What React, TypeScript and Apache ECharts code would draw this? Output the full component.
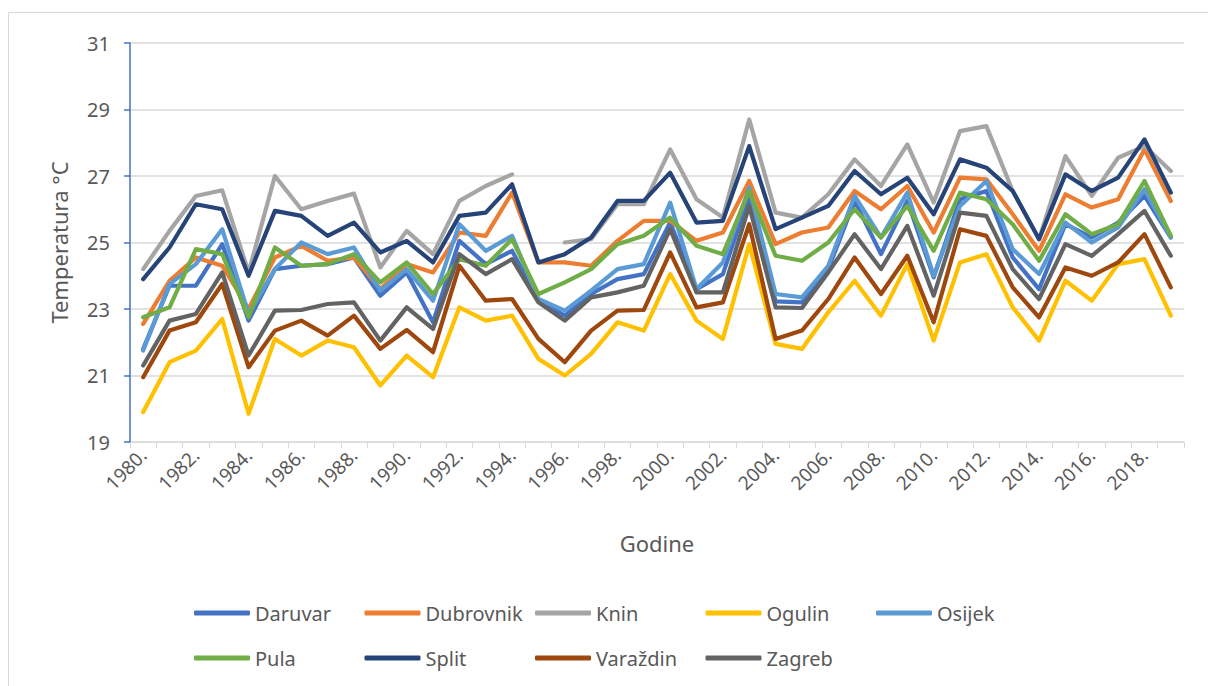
import React, { useEffect, useRef } from "react";
import * as echarts from "echarts";

const years: string[] = [
  "1980.", "1981.", "1982.", "1983.", "1984.", "1985.", "1986.", "1987.", "1988.", "1989.",
  "1990.", "1991.", "1992.", "1993.", "1994.", "1995.", "1996.", "1997.", "1998.", "1999.",
  "2000.", "2001.", "2002.", "2003.", "2004.", "2005.", "2006.", "2007.", "2008.", "2009.",
  "2010.", "2011.", "2012.", "2013.", "2014.", "2015.", "2016.", "2017.", "2018.", "2019.",
];

const daruvar = [
  21.8, 23.7, 23.7, 24.95, 22.65, 24.2, 24.3, 24.35, 24.55, 23.4,
  24.1, 22.6, 25.05, 24.35, 24.75, 23.25, 22.8, 23.45, 23.9, 24.05,
  25.6, 23.6, 24.05, 26.4, 23.23, 23.2, 24.2, 26.25, 24.65, 26.25,
  23.95, 26.3, 26.55, 24.55, 23.6, 25.55, 25.15, 25.6, 26.4, 25.15,
];
const dubrovnik = [
  22.55, 23.85, 24.55, 24.3, 23.0, 24.55, 24.9, 24.45, 24.55, 23.6,
  24.35, 24.1, 25.3, 25.2, 26.5, 24.4, 24.4, 24.3, 25.05, 25.65,
  25.65, 25.05, 25.3, 26.85, 24.95, 25.3, 25.45, 26.55, 26.0, 26.7,
  25.3, 26.95, 26.9, 25.85, 24.75, 26.45, 26.05, 26.3, 27.8, 26.25,
];
const knin = [
  24.2, 25.35, 26.4, 26.57, 24.1, 27.0, 26.0, 26.25, 26.47, 24.25,
  25.35, 24.65, 26.25, 26.7, 27.05, null, 25.0, 25.1, 26.15, 26.15,
  27.8, 26.3, 25.75, 28.7, 25.9, 25.75, 26.45, 27.5, 26.7, 27.95,
  26.2, 28.35, 28.5, 26.55, 25.1, 27.6, 26.4, 27.55, 27.9, 27.15,
];
const ogulin = [
  19.9, 21.4, 21.75, 22.7, 19.85, 22.1, 21.6, 22.05, 21.85, 20.7,
  21.6, 20.95, 23.05, 22.65, 22.8, 21.5, 21.0, 21.65, 22.6, 22.35,
  24.05, 22.65, 22.1, 24.95, 21.95, 21.8, 22.9, 23.85, 22.8, 24.35,
  22.05, 24.4, 24.65, 23.05, 22.05, 23.85, 23.25, 24.35, 24.5, 22.8,
];
const osijek = [
  21.75, 23.75, 24.35, 25.4, 22.85, 24.2, 25.0, 24.65, 24.85, 23.55,
  24.2, 23.25, 25.55, 24.75, 25.2, 23.3, 22.95, 23.55, 24.2, 24.35,
  26.2, 23.6, 24.4, 26.65, 23.45, 23.35, 24.3, 26.4, 25.15, 26.5,
  24.0, 26.1, 26.85, 24.8, 24.05, 25.6, 25.0, 25.45, 26.6, 25.15,
];
const pula = [
  22.75, 23.05, 24.8, 24.65, 22.75, 24.85, 24.3, 24.35, 24.65, 23.8,
  24.4, 23.45, 24.5, 24.3, 25.1, 23.45, 23.8, 24.2, 24.95, 25.2,
  25.75, 24.9, 24.65, 26.55, 24.6, 24.45, 25.0, 26.0, 25.15, 26.1,
  24.75, 26.5, 26.3, 25.55, 24.45, 25.85, 25.25, 25.55, 26.85, 25.2,
];
const split = [
  23.9, 24.85, 26.15, 26.0, 24.0, 25.95, 25.8, 25.2, 25.6, 24.7,
  25.05, 24.4, 25.8, 25.9, 26.75, 24.4, 24.65, 25.15, 26.25, 26.25,
  27.1, 25.6, 25.65, 27.9, 25.4, 25.75, 26.1, 27.15, 26.45, 26.95,
  25.85, 27.5, 27.25, 26.55, 25.1, 27.05, 26.55, 26.95, 28.1, 26.5,
];
const varazdin = [
  20.95, 22.35, 22.6, 23.75, 21.25, 22.35, 22.65, 22.2, 22.8, 21.8,
  22.37, 21.7, 24.3, 23.25, 23.3, 22.1, 21.4, 22.35, 22.95, 22.97,
  24.7, 23.05, 23.2, 25.55, 22.1, 22.35, 23.3, 24.55, 23.45, 24.6,
  22.6, 25.4, 25.2, 23.65, 22.75, 24.25, 24.0, 24.4, 25.25, 23.65,
];
const zagreb = [
  21.3, 22.65, 22.85, 24.1, 21.6, 22.95, 22.97, 23.15, 23.2, 22.05,
  23.05, 22.4, 24.65, 24.05, 24.5, 23.2, 22.65, 23.35, 23.5, 23.7,
  25.4, 23.5, 23.5, 26.1, 23.05, 23.03, 24.1, 25.25, 24.2, 25.5,
  23.4, 25.9, 25.8, 24.2, 23.3, 24.95, 24.6, 25.25, 25.95, 24.6,
];

const seriesNames = ["Daruvar", "Dubrovnik", "Knin", "Ogulin", "Osijek", "Pula", "Split", "Varaždin", "Zagreb"];
const seriesValues = [daruvar, dubrovnik, knin, ogulin, osijek, pula, split, varazdin, zagreb];
const seriesColors = ["#4472C4", "#ED7D31", "#A5A5A5", "#FFC000", "#5B9BD5", "#70AD47", "#264478", "#9E480E", "#636363"];

const yTicks = { min: 19, max: 31, interval: 2 };
const xTitle = "Godine";
const yTitle = "Temperatura °C";

const FONT = "'Noto Sans', 'Open Sans', sans-serif";
const TXT = "#595959";

export default function App() {
  const ref = useRef<HTMLDivElement>(null);
  useEffect(() => {
    document.body.style.margin = "0";
    if (!ref.current) return;
    const chart = echarts.init(ref.current, undefined, { renderer: "svg" });
    const legends = seriesNames.map((name, i) => ({
      show: true,
      data: [name],
      left: 194 + (i < 5 ? i : i - 5) * 170.5,
      top: i < 5 ? 603 : 648,
      icon: "roundRect",
      itemWidth: 56,
      itemHeight: 5,
      itemGap: 0,
      padding: 0,
      selectedMode: false,
      textStyle: { fontFamily: FONT, fontSize: 20, color: TXT },
    }));
    chart.setOption({
      animation: false,
      backgroundColor: "#ffffff",
      textStyle: { fontFamily: FONT },
      graphic: [
        {
          type: "rect",
          shape: { x: 8.5, y: 12.5, width: 1250, height: 760 },
          style: { fill: "none", stroke: "#D9D9D9", lineWidth: 1 },
          silent: true,
          z: -10,
        },
      ],
      legend: legends,
      grid: { left: 130, top: 43, width: 1054, height: 399, containLabel: false },
      xAxis: {
        type: "category",
        data: years,
        boundaryGap: true,
        name: xTitle,
        nameLocation: "middle",
        nameGap: 90,
        nameTextStyle: { fontFamily: FONT, fontSize: 22, color: TXT },
        axisLine: { show: true, lineStyle: { color: "#D9D9D9", width: 1 } },
        axisTick: { show: true, interval: 0, length: 6, lineStyle: { color: "#D9D9D9" } },
        axisLabel: { interval: 1, rotate: 45, fontFamily: FONT, fontSize: 19, color: TXT, margin: 10 },
        splitLine: { show: false },
      },
      yAxis: {
        type: "value",
        min: yTicks.min,
        max: yTicks.max,
        interval: yTicks.interval,
        name: yTitle,
        nameLocation: "middle",
        nameRotate: 90,
        nameGap: 60,
        nameTextStyle: { fontFamily: FONT, fontSize: 22, color: TXT },
        axisLine: { show: true, lineStyle: { color: "#4472C4", width: 1.5 } },
        axisTick: { show: true, length: 6, lineStyle: { color: "#4472C4", width: 1.5 } },
        axisLabel: { fontFamily: FONT, fontSize: 20, color: TXT, margin: 20 },
        splitLine: { show: true, lineStyle: { color: "#D9D9D9", width: 1.5 } },
      },
      series: seriesNames.map((name, i) => ({
        name,
        type: "line",
        data: seriesValues[i],
        symbol: "none",
        connectNulls: false,
        color: seriesColors[i],
        lineStyle: { width: 4.2, color: seriesColors[i], cap: "round", join: "round" },
      })),
    });
    return () => chart.dispose();
  }, []);
  return <div ref={ref} style={{ width: 1208, height: 686 }} />;
}
